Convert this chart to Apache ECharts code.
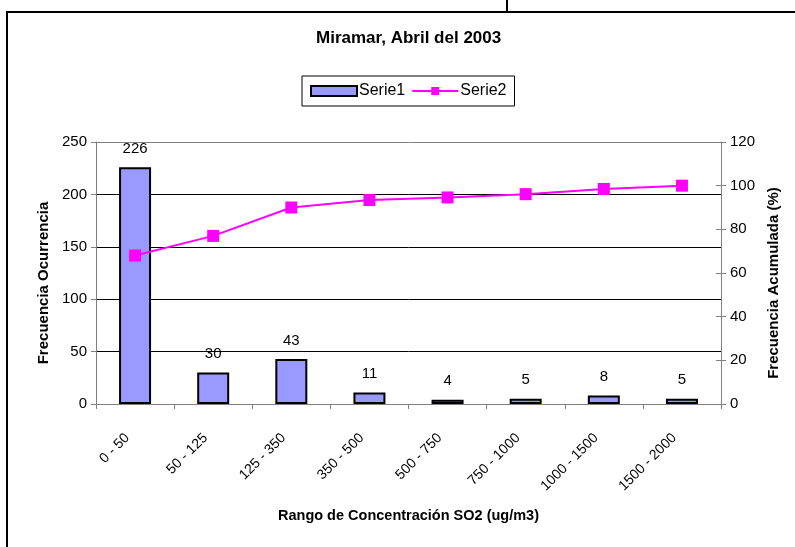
<!DOCTYPE html>
<html>
<head>
<meta charset="utf-8">
<script src="https://cdn.jsdelivr.net/npm/echarts@6/dist/echarts.min.js"></script>
<style>
  html, body { margin: 0; padding: 0; background: #fff; }
  #chart { width: 795px; height: 547px; }
</style>
</head>
<body>
<div id="chart"></div>
<script>
// data
const categories = ['0 - 50', '50 - 125', '125 - 350', '350 - 500', '500 - 750', '750 - 1000', '1000 - 1500', '1500 - 2000'];
const serie1 = [226, 30, 43, 11, 4, 5, 8, 5];
const serie2 = [68, 77, 90, 93.4, 94.6, 96.1, 98.5, 100];
const leftTicks = { min: 0, max: 250, interval: 50 };
const rightTicks = { min: 0, max: 120, interval: 20 };

const font = '"Liberation Sans", Arial, sans-serif';
const axisGray = '#808080';

const chart = echarts.init(document.getElementById('chart'));

chart.setOption({
  animation: false,
  textStyle: { fontFamily: font, color: '#000' },
  title: {
    text: 'Miramar, Abril del 2003',
    left: 316,
    top: 30,
    padding: 0,
    textStyle: { fontFamily: font, fontSize: 17, fontWeight: 'bold', color: '#000' }
  },
  legend: {
    left: 302,
    top: 76,
    padding: [7, 8],
    itemGap: 6,
    itemWidth: 46,
    itemHeight: 10,
    borderColor: '#000',
    borderWidth: 1,
    textStyle: { fontFamily: font, fontSize: 16, color: '#000', padding: [0, 0, 0, -3] },
    data: [{ name: 'Serie1', icon: 'rect' }, { name: 'Serie2' }]
  },
  grid: { left: 96, right: 74, top: 142, bottom: 143 },
  xAxis: {
    type: 'category',
    data: categories,
    boundaryGap: true,
    name: 'Rango de Concentración SO2 (ug/m3)',
    nameLocation: 'middle',
    nameGap: 104,
    nameTextStyle: { fontFamily: font, fontSize: 14.5, fontWeight: 'bold', color: '#000' },
    axisLine: { lineStyle: { color: axisGray, width: 1 } },
    axisTick: { show: true, length: 5, lineStyle: { color: axisGray } },
    axisLabel: { rotate: 45, margin: 24, fontSize: 14, color: '#000', interval: 0, padding: [0, 11, 0, 0] },
    splitLine: { show: false }
  },
  yAxis: [
    {
      type: 'value',
      position: 'left',
      min: leftTicks.min,
      max: leftTicks.max,
      interval: leftTicks.interval,
      name: 'Frecuencia Ocurrencia',
      nameLocation: 'middle',
      nameGap: 45,
      nameTextStyle: { fontFamily: font, fontSize: 15, fontWeight: 'bold', color: '#000', padding: [0, 0, 0, -20] },
      axisLine: { show: true, lineStyle: { color: axisGray } },
      axisTick: { show: true, length: 5, lineStyle: { color: axisGray } },
      axisLabel: { fontSize: 15, color: '#000', margin: 9 },
      splitLine: { show: true, lineStyle: { color: ['#000', '#000', '#000', '#000', '#000', axisGray], width: 1 } }
    },
    {
      type: 'value',
      position: 'right',
      min: rightTicks.min,
      max: rightTicks.max,
      interval: rightTicks.interval,
      name: 'Frecuencia Acumulada (%)',
      nameLocation: 'middle',
      nameGap: 45,
      nameTextStyle: { fontFamily: font, fontSize: 15, fontWeight: 'bold', color: '#000', padding: [0, 0, 0, -20] },
      axisLine: { show: true, lineStyle: { color: axisGray } },
      axisTick: { show: true, length: 5, lineStyle: { color: axisGray } },
      axisLabel: { fontSize: 15, color: '#000', margin: 9 },
      splitLine: { show: false }
    },
    {
      // inner half of the crossing ticks on the right axis
      type: 'value',
      position: 'right',
      min: rightTicks.min,
      max: rightTicks.max,
      interval: rightTicks.interval,
      axisLine: { show: false },
      axisTick: { show: true, inside: true, length: 5, lineStyle: { color: axisGray } },
      axisLabel: { show: false },
      splitLine: { show: false }
    }
  ],
  series: [
    {
      name: 'Serie1',
      type: 'bar',
      data: serie1,
      barWidth: 32,
      itemStyle: { color: '#9999ff', borderColor: '#000', borderWidth: 2 },
      label: { show: true, position: 'top', distance: 11, fontSize: 15, color: '#000', fontFamily: font }
    },
    {
      name: 'Serie2',
      type: 'line',
      yAxisIndex: 1,
      data: serie2,
      symbol: 'rect',
      symbolSize: 12,
      z: 5,
      itemStyle: { color: '#ff00ff' },
      lineStyle: { color: '#ff00ff', width: 2 }
    }
  ],
  graphic: [
    {
      type: 'rect',
      shape: { x: 7, y: 12, width: 900, height: 700 },
      style: { fill: null, stroke: '#000', lineWidth: 2 },
      silent: true
    },
    {
      type: 'line',
      shape: { x1: 507, y1: 0, x2: 507, y2: 12 },
      style: { stroke: '#000', lineWidth: 2 },
      silent: true
    }
  ]
});
</script>
</body>
</html>
